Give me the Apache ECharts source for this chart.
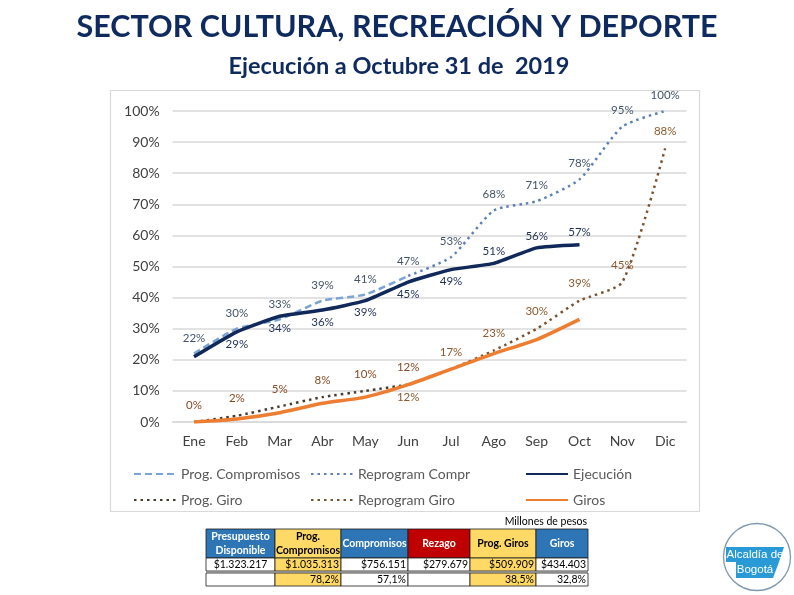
<!DOCTYPE html>
<html>
<head>
<meta charset="utf-8">
<script src="https://cdn.jsdelivr.net/npm/echarts@6/dist/echarts.min.js"></script>
<style>
html,body{margin:0;padding:0;background:#fff;}
#c{width:794px;height:595px;}
</style>
</head>
<body>
<div id="c"></div>
<script>
// ---- Data ----
const months = ['Ene','Feb','Mar','Abr','May','Jun','Jul','Ago','Sep','Oct','Nov','Dic'];
const progCompromisos = [22,30,33,39,41,47,null,null,null,null,null,null];
const reprogramCompr  = [null,null,null,null,null,47,53,68,71,78,95,100];
const ejecucion       = [21,29,34,36,39,45,49,51,56,57,null,null];
const progGiro        = [0,2,5,8,10,12,null,null,null,null,null,null];
const reprogramGiro   = [null,null,null,null,null,12,17,23,30,39,45,88];
const giros           = [0,1,3,6,8,12,17,22,26.5,33,null,null];

const tableHeaders = ['Presupuesto\nDisponible','Prog.\nCompromisos','Compromisos','Rezago','Prog. Giros','Giros'];
const tableValues  = ['$1.323.217','$1.035.313','$756.151','$279.679','$509.909','$434.403'];
const tablePercent = ['','78,2%','57,1%','','38,5%','32,8%'];

// ---- Styles / label placement (not data) ----
const FONT = 'Lato';
function withLabels(values, spec, color, dist){
  return values.map(function(v,i){
    const pos = spec[i];
    if (v === null) return null;
    if (!pos) return {value:v, label:{show:false}};
    return {value:v, label:{show:true, position:pos, distance:dist, color:color,
      fontFamily:FONT, fontSize:11.5, formatter:function(p){return Math.round(p.value)+'%';}}};
  });
}
const T='top', B='bottom';
const specPC  = [T,T,T,T,T,T];
const specRC  = [,,,,,,T,T,T,T,T,T];
const specEj  = [,B,B,B,B,B,B,T,T,T];
const specPG  = [T,T,T,T,T,T];
const specRG  = [,,,,,,T,T,T,T,T,T];
const specGi  = [,,,,,B];

const chart = echarts.init(document.getElementById('c'), null, {renderer:'canvas'});

// table graphics
const colX = [206,275,341,408,470,536,588];
const headFill = ['#2e75b6','#ffd966','#2e75b6','#c00000','#ffd966','#2e75b6'];
const headText = ['#ffffff','#000000','#ffffff','#ffffff','#000000','#ffffff'];
const bodyFill = ['#ffffff','#ffd966','#ffffff','#ffffff','#ffd966','#ffffff'];
const rows = {h0:529,h1:558,r1:571,r2a:573,r2b:586};
const tableEls = [];
for (let i=0;i<6;i++){
  const x0=colX[i], w=colX[i+1]-colX[i];
  tableEls.push({type:'rect',shape:{x:x0,y:rows.h0,width:w,height:rows.h1-rows.h0},style:{fill:headFill[i],stroke:'#1a1a1a',lineWidth:0.8}});
  tableEls.push({type:'text',x:x0+w/2,y:(rows.h0+rows.h1)/2,style:{text:tableHeaders[i],fill:headText[i],font:'bold 10.5px '+FONT,align:'center',verticalAlign:'middle',lineHeight:14}});
  tableEls.push({type:'rect',shape:{x:x0,y:rows.h1,width:w,height:rows.r1-rows.h1},style:{fill:bodyFill[i],stroke:'#1a1a1a',lineWidth:0.8}});
  tableEls.push({type:'rect',shape:{x:x0,y:rows.r2a,width:w,height:rows.r2b-rows.r2a},style:{fill:bodyFill[i],stroke:'#1a1a1a',lineWidth:0.8}});
  tableEls.push({type:'text',x: i===0 ? x0+w/2 : x0+w-2,y:(rows.h1+rows.r1)/2+0.5,style:{text:tableValues[i],fill:'#000',font:'10.5px '+FONT,align: i===0?'center':'right',verticalAlign:'middle'}});
  if (tablePercent[i]) tableEls.push({type:'text',x:x0+w-2,y:(rows.r2a+rows.r2b)/2,style:{text:tablePercent[i],fill:'#000',font:'10.5px '+FONT,align:'right',verticalAlign:'middle'}});
}
tableEls.push({type:'rect',shape:{x:colX[0],y:rows.r1,width:colX[6]-colX[0],height:rows.r2a-rows.r1},style:{fill:'#8c8c8c'}});
tableEls.push({type:'text',x:587,y:522,style:{text:'Millones de pesos',fill:'#000',font:'10.5px '+FONT,align:'right',verticalAlign:'middle'}});

const legendItems = [
  ['Prog. Compromisos',128,471],['Reprogram Compr',305,471],['Ejecución',520,471],
  ['Prog. Giro',128,497],['Reprogram Giro',305,497],['Giros',520,497]
];

function lineSeries(name, data, color, width, type, z, smooth){
  return {name:name,type:'line',symbol:'circle',symbolSize:0,showSymbol:true,showAllSymbol:true,
    smooth:smooth,data:data,lineStyle:{color:color,width:width,type:type},
    itemStyle:{color:color},z:z,emphasis:{disabled:true}};
}

const option = {
  backgroundColor:'#ffffff',
  animation:false,
  title:[
    {text:'SECTOR CULTURA, RECREACIÓN Y DEPORTE',left:'center',top:7,textStyle:{fontFamily:FONT,fontWeight:'bold',fontSize:30.5,color:'#0f2a5e'}},
    {text:'Ejecución a Octubre 31 de  2019',left:394,textAlign:'center',top:49,textStyle:{fontFamily:FONT,fontWeight:'bold',fontSize:23.5,color:'#0f2a5e'}}
  ],
  legend: legendItems.map(function(it){
    return {data:[it[0]],left:it[1],top:it[2]-9,itemWidth:42,itemHeight:14,itemGap:10,
      itemStyle:{opacity:0,color:'rgba(0,0,0,0)',borderWidth:0},
      textStyle:{fontFamily:FONT,fontSize:14,color:'#595959'},selectedMode:false};
  }),
  grid:{left:172.6,right:107.4,top:111,bottom:173},
  xAxis:{type:'category',data:months,boundaryGap:true,
    axisLine:{show:true,lineStyle:{color:'#d9d9d9',width:1.5}},axisTick:{show:false},
    axisLabel:{fontFamily:FONT,fontSize:14,color:'#404040',margin:12}},
  yAxis:{type:'value',min:0,max:100,interval:10,
    axisLabel:{formatter:'{value}%',fontFamily:FONT,fontSize:14,color:'#404040',margin:13},
    axisLine:{show:false},axisTick:{show:false},
    splitLine:{lineStyle:{color:'#d9d9d9',width:1.5}}},
  series:[
    lineSeries('Prog. Compromisos', withLabels(progCompromisos,specPC,'#44546a',9), '#7aa3d6', 2.5, [7,4], 3, 0.2),
    lineSeries('Reprogram Compr', withLabels(reprogramCompr,specRC,'#44546a',10), '#5b7fb8', 2.5, [2.5,4], 3, 0.2),
    lineSeries('Ejecución', withLabels(ejecucion,specEj,'#1f2f55',6), '#10285a', 3.5, 'solid', 4, 0.15),
    lineSeries('Prog. Giro', withLabels(progGiro,specPG,'#8a4a22',11), '#4a3a2c', 2.5, [2.5,4], 3, 0.2),
    lineSeries('Reprogram Giro', withLabels(reprogramGiro,specRG,'#8c5a2e',11), '#7a5230', 2.5, [2.5,4], 3, 0.2),
    lineSeries('Giros', withLabels(giros,specGi,'#8c5a2e',7), '#ed7d31', 3.5, 'solid', 4, 0.2)
  ],
  graphic:[
    {type:'rect',z:-10,shape:{x:110.5,y:90.5,width:589,height:421},style:{fill:'#ffffff',stroke:'#d9d9d9',lineWidth:1.2}},
    {type:'group',children:tableEls},
    {type:'group',children:[
      {type:'circle',shape:{cx:757,cy:557,r:33.5},style:{fill:'#ffffff',stroke:'#7d98b0',lineWidth:1.3}},
      {type:'polygon',shape:{points:[[726,547],[784,547],[779,562],[773,578],[736,578],[736,562],[726,562]]},style:{fill:'#2a9ad6'}},
      {type:'text',x:755,y:555,style:{text:'Alcaldía de',fill:'#ffffff',font:'11.5px "Liberation Sans"',align:'center',verticalAlign:'middle'}},
      {type:'text',x:755,y:570,style:{text:'Bogotá',fill:'#ffffff',font:'11.5px "Liberation Sans"',align:'center',verticalAlign:'middle'}}
    ]}
  ]
};
chart.setOption(option);
</script>
</body>
</html>
